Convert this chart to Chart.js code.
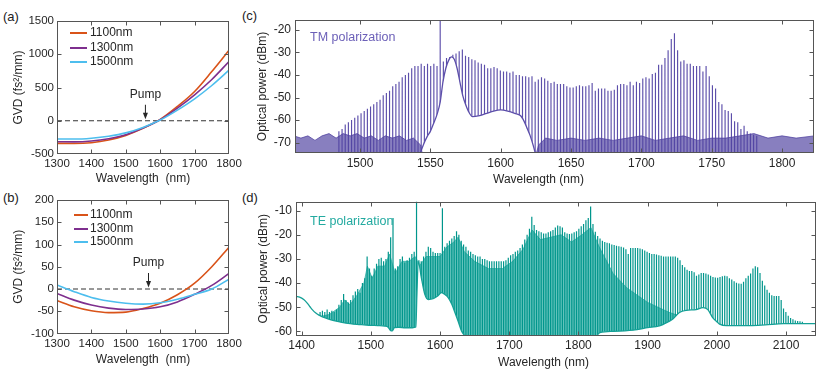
<!DOCTYPE html>
<html><head><meta charset="utf-8">
<script src="https://cdn.jsdelivr.net/npm/chart.js@4/dist/chart.umd.min.js"></script>
<style>
body{margin:0;background:#fff;width:830px;height:382px;overflow:hidden;position:relative;font-family:"Liberation Sans",Arial,sans-serif;}
canvas{position:absolute;}
.lbl{position:absolute;font-size:13px;line-height:15px;color:#222;}
</style></head><body>
<div class="lbl" style="left:3px;top:9px">(a)</div>
<div class="lbl" style="left:3px;top:190px">(b)</div>
<div class="lbl" style="left:242px;top:8px">(c)</div>
<div class="lbl" style="left:242px;top:190px">(d)</div>
<canvas id="ca" width="245" height="190" style="left:0;top:0"></canvas>
<canvas id="cb" width="245" height="192" style="left:0;top:190px"></canvas>
<canvas id="cc" width="585" height="190" style="left:245px;top:0"></canvas>
<canvas id="cd" width="585" height="192" style="left:245px;top:190px"></canvas>
<script>
// ---------------- DATA ----------------
const gvdWavelengths = [1300,1350,1400,1450,1500,1550,1600,1650,1700,1750,1800];
const gvdSeriesNames = ['1100nm','1300nm','1500nm'];
const gvdA_1100 = [-340,-342,-330,-290,-220,-115,20,215,440,740,1060];
const gvdA_1300 = [-315,-318,-305,-270,-210,-110,15,190,390,620,890];
const gvdA_1500 = [-275,-275,-262,-232,-182,-100,10,160,330,530,760];
const gvdB_1100 = [-26,-40,-49,-53,-52,-44,-32,-13,13,50,94];
const gvdB_1300 = [-10,-25,-36,-43,-46,-45,-40,-29,-12,8,35];
const gvdB_1500 = [9,-6,-19,-27,-32,-34,-31,-23,-12,0,22];
const gvdTicksX = [1300,1400,1500,1600,1700,1800];
const gvdA_ticksY = [-500,0,500,1000,1500];
const gvdB_ticksY = [-100,-50,0,50,100,150,200];
const pumpTM = 1557, pumpTE = 1566;

// (c) TM comb: first visible line and line spacing (nm), peak power of each line (dBm)
const tmFirstLine = 1485, tmFsr = 2.25;
const tmPeaks = [
 -65,-64,-62,-61,-60,-59,-58,-57,-56,-55,-54,-53,-52,-51,-49,-48,-47,-45,-44,-43,-41,-40,-39,-37,-36,-36,-35,-36,-35,-36,-35,-36,
 -8,
 -34,-32.5,-32,-31,-30.5,-29.5,-28.7,-31.5,-32,-33,-33.5,-34.5,-35,-35.5,-37,-37,-36.5,-37,-38,-38.5,-38.5,-39,-38.5,-40,-40,-40.5,-40.5,-41,-40.5,-43,-42,-41,-41.5,
 -42.5,-43.5,-43,-44,-44,-44,-45,-45.5,-45.5,-45,-44.5,-45,-45,-44.5,-43.5,-47,-46,-46,-46,-47,-47,-46.5,-44.5,-44,-44,-44.5,-43,-44.5,-43,-43.5,-41.5,-41,-41.5,-39.5,
 -39,-35.5,-35.5,-32.5,-29,-24,-21.5,-29,-34,-33.5,-35,-35,-36,-36,-36,-38.5,-36,-40.5,-44.5,-46,-52,-53,-55.5,-56,-57,-60.5,-61,-64,-62.5,-65,-66,-66.5,-67
];
const tmPedestalWl  = [1541,1545,1548,1550,1552,1555,1557,1559,1561,1563,1565,1567,1569,1571,1573,1575,1577,1580,1585,1590,1595,1600,1605,1610,1614,1617,1619,1621,1623,1626];
const tmPedestalVal = [-78,-71,-67,-65,-62,-57,-52,-43,-37,-33.5,-32,-33,-37,-43,-49,-53,-56,-58.5,-58,-57,-56,-55.5,-56,-57,-58,-61,-64,-67,-71,-78];
const tmNoiseWl  = [1453,1458,1463,1468,1473,1478,1483,1488,1493,1498,1503,1508,1513,1518,1523,1528,1533,1538,1543,1546,1623,1627,1632,1640,1650,1660,1670,1680,1690,1700,1710,1720,1730,1740,1750,1760,1770,1780,1790,1800,1810,1823];
const tmNoiseTop = [-67,-68,-67,-69,-67,-66,-68,-66,-67,-66,-68,-67,-69,-67,-68,-67,-69,-68,-71,-80,-80,-71,-68,-69,-68,-69,-68,-69,-68,-67,-69,-68,-67,-69,-68,-68,-67,-66,-68,-67,-68,-67];
const tmTicksX = [1500,1550,1600,1650,1700,1750,1800];
const tmTicksY = [-70,-60,-50,-40,-30,-20];

// (d) TE comb
const teFirstLine = 1426.6, teFsr = 3.4;
const tePeaks = [
 -52,-51.5,-52,-51,-52,-51.5,-52,-51,-49,-47,
 -44.5,-47,-48,-47,-45,-43.5,-42.5,-44,-40,-38,
 -29,-34,-37,-34,-32,-30,-29.5,-31,-30,-27,
 -21,-13,-34,-33,-30,-29,-31.5,-30.5,-29.5,-28,
 -27,-3,-30.5,-31,-29,-27,-25,-25.5,-27,-27.5,
 -27.5,-27.5,-9,-25,-23.5,-22.5,-21.5,-20.5,-18.5,-20,
 -22.5,-24,-25,-26.5,-27,-28,-28.5,-29,-29,-30,
 -30,-30.5,-31,-31,-31,-31,-31,-31,-31,-30.5,
 -29.5,-28.5,-28,-27,-26.5,-25.5,-24,-22,-20,-17.5,
 -12.5,-16,-18,-18.5,-19,-19.5,-19.5,-19,-18.5,-18,
 -17,-16.2,-16.5,-17,-19,-19.5,-19.7,-19.5,-19,-18.5,
 -17.5,-16.5,-15.5,-14,-13,-8.3,-15.5,-18.7,-20.5,-21.5,
 -22.5,-23,-23.3,-23.5,-24,-24.2,-24.5,-24.7,-25,-25.3,
 -26,-28,-25.5,-25.5,-25.5,-25.5,-25.7,-26,-26.5,-27,
 -27.5,-28,-28,-28.2,-28.5,-28.7,-29,-29,-29,-29,
 -29,-29,-29.5,-30.5,-32.5,-33.5,-34.5,-35,-35,-35.5,
 -37,-36.5,-35.8,-35.8,-36,-36.5,-37,-37.5,-37.7,-37.8,
 -37.5,-37.2,-37,-37.2,-38,-38.5,-39.2,-39.9,-40.2,-40.3,
 -39.5,-38,-37,-36,-34,-33,-33.5,-35.8,-39,-41,
 -42.8,-44,-45,-45.4,-45.4,-45.4,-47,-50.5,-52,-53.5,
 -54.5,-55,-55.5,-55.7,-55.8,-56
];
const teFloorWl  = [1392,1397,1403,1408,1412,1416,1420,1425,1430,1440,1450,1460,1470,1480,1490,1500,1510,1520,1525,1528,1531,1534,1540,1550,1560,1565,1566.5,1568.5,1573,1578,1583,1590,1596,1602,1607,1612,1617,1621.5,1626,1631,1636,1642,1820,1831,1850,1879,1900,1917,1930,1936,1946,1956,1970,1980,1987,1994,2000,2004,2014,2048,2070,2096,2143];
const teFloorVal = [-45.6,-45.8,-46.8,-48.3,-49.8,-51.2,-52.3,-53.3,-54,-55,-55.8,-56.4,-56.8,-57.1,-57.3,-57.5,-57.6,-57.8,-58.3,-59.5,-59.8,-58.5,-58.3,-58.5,-58.5,-58.2,-45,-31,-37.8,-44.7,-46.8,-46.5,-45.5,-44,-44.7,-46.1,-48.8,-52.2,-55.7,-59.8,-61.9,-64,-64,-60.5,-60,-59.5,-58.5,-57.7,-56,-55,-52.2,-51.3,-51,-50.2,-51,-54.3,-56,-57,-57.6,-57.6,-57.3,-56.8,-56.8];
const teSkirtWl  = [1425,1440,1455,1462,1470,1480,1490,1495,1502,1510,1520,1527,1535,1545,1555,1564,1566,1570,1580,1590,1600,1610,1620,1626,1635,1650,1670,1690,1705,1720,1733,1745,1760,1775,1790,1805,1818,1830,1850,1870,1900,1930,1950,1970,1990,2010,2040,2060,2080,2095];
const teSkirtVal = [-54,-53,-50,-47,-49,-45,-40,-33,-38,-33,-33,-28,-36,-31,-31,-29,-30,-33,-29,-29,-29,-25,-23,-21,-27,-31,-34,-34,-31,-26,-18,-22,-21,-20,-23,-20,-17,-25,-36,-42,-48,-52,-54,-55,-56,-58,-58,-58,-58,-58];
const teTicksX = [1400,1500,1600,1700,1800,1900,2000,2100];
const teTicksY = [-60,-50,-40,-30,-20,-10];

// ---------------- HELPERS ----------------
const FONT = '"Liberation Sans", Arial, sans-serif';
const TXT = '#262626';
const C1100 = 'rgb(217,83,25)', C1300 = 'rgb(126,47,142)', C1500 = 'rgb(77,190,238)';
const TM = 'rgb(92,78,170)', TE = 'rgb(0,150,140)';
const zip = (xs, ys) => xs.map((x, i) => ({x, y: ys[i]}));
function combPoints(first, fsr, peaks, base) {
  const pts = [];
  peaks.forEach((p, i) => { const x = first + i * fsr; pts.push({x, y: base}, {x, y: p}, {x, y: base}); });
  return pts;
}
function axis(o) {
  return {
    type: 'linear', min: o.min, max: o.max,
    afterBuildTicks: s => { s.ticks = o.ticks.map(v => ({value: v})); },
    ticks: {callback: v => String(v), font: {family: FONT, size: o.fs}, color: TXT, padding: o.pad, autoSkip: false, maxRotation: 0, minRotation: 0},
    grid: {display: false, drawTicks: false},
    border: {display: false},
    title: o.title ? {display: true, text: o.title, font: {family: FONT, size: 12}, color: TXT, padding: o.tpad} : {display: false},
    afterFit: s => { if (s.isHorizontal()) s.height = o.size; else s.width = o.size; }
  };
}
const deco = {
  id: 'deco',
  afterDatasetsDraw(chart) {
    const o = chart.options.plugins.deco || {};
    const {ctx, chartArea: a, scales: {x, y}} = chart;
    ctx.save();
    ctx.strokeStyle = '#555'; ctx.lineWidth = 1;
    const L = Math.round(a.left) + 0.5, R = Math.round(a.right) - 0.5, T = Math.round(a.top) + 0.5, B = Math.round(a.bottom) - 0.5;
    ctx.strokeRect(L, T, R - L, B - T);
    ctx.beginPath();
    const tl = 4;
    x.ticks.forEach(t => { const px = Math.round(x.getPixelForValue(t.value)) + 0.5; if (px > L + 1 && px < R - 1) { ctx.moveTo(px, B); ctx.lineTo(px, B - tl); ctx.moveTo(px, T); ctx.lineTo(px, T + tl); } });
    y.ticks.forEach(t => { const py = Math.round(y.getPixelForValue(t.value)) + 0.5; if (py > T + 1 && py < B - 1) { ctx.moveTo(L, py); ctx.lineTo(L + tl, py); ctx.moveTo(R, py); ctx.lineTo(R - tl, py); } });
    ctx.stroke();
    if (o.legend) {
      const g = o.legend;
      chart.data.datasets.forEach(d => {
        const k = gvdSeriesNames.indexOf(d.label); if (k < 0) return;
        const yy = g.ys[k];
        ctx.strokeStyle = d.borderColor; ctx.lineWidth = 2;
        ctx.beginPath(); ctx.moveTo(g.x0, yy); ctx.lineTo(g.x1, yy); ctx.stroke();
        ctx.fillStyle = TXT; ctx.font = '12px ' + FONT; ctx.textAlign = 'left'; ctx.textBaseline = 'middle';
        ctx.fillText(d.label, g.tx, yy);
      });
    }
    if (o.pump) {
      const px = x.getPixelForValue(o.pump.wl), p0 = y.getPixelForValue(0);
      ctx.fillStyle = TXT; ctx.font = '12px ' + FONT; ctx.textAlign = 'center'; ctx.textBaseline = 'middle';
      ctx.fillText('Pump', px, p0 - 26);
      ctx.strokeStyle = '#222'; ctx.lineWidth = 1;
      ctx.beginPath(); ctx.moveTo(px, p0 - 16); ctx.lineTo(px, p0 - 6); ctx.stroke();
      ctx.beginPath(); ctx.moveTo(px, p0 - 1.5); ctx.lineTo(px - 2.5, p0 - 8); ctx.lineTo(px + 2.5, p0 - 8); ctx.closePath(); ctx.fill();
    }
    (o.texts || []).forEach(t => {
      ctx.fillStyle = t.color || TXT; ctx.font = (t.size || 12) + 'px ' + FONT;
      ctx.textAlign = t.align || 'left'; ctx.textBaseline = 'middle';
      ctx.fillText(t.text, t.x, t.y);
    });
    ctx.restore();
  }
};
function baseOptions(pad, scales, decoOpts) {
  return {
    responsive: false, animation: false, events: [],
    layout: {autoPadding: false, padding: pad},
    scales,
    plugins: {legend: {display: false}, tooltip: {enabled: false}, deco: decoOpts}
  };
}
const lineDs = (label, data, color, order) => ({label, data, borderColor: color, borderWidth: 1.6, pointRadius: 0, cubicInterpolationMode: 'monotone', fill: false, order});

// ---------------- (a) ----------------
new Chart(document.getElementById('ca'), {
  type: 'line',
  data: {datasets: [
    lineDs('1100nm', zip(gvdWavelengths, gvdA_1100), C1100, 3),
    lineDs('1300nm', zip(gvdWavelengths, gvdA_1300), C1300, 2),
    lineDs('1500nm', zip(gvdWavelengths, gvdA_1500), C1500, 1),
    {label: 'zero', data: [{x: 1300, y: 0}, {x: 1800, y: 0}], borderColor: '#333', borderDash: [5, 3], borderWidth: 1, pointRadius: 0, order: 4}
  ]},
  options: baseOptions({left: 0, top: 21, right: 16, bottom: 4}, {
    x: axis({min: 1300, max: 1800, ticks: gvdTicksX, fs: 11.5, pad: 3, title: 'Wavelength  (nm)', tpad: {top: 0, bottom: 0}, size: 32}),
    y: axis({min: -500, max: 1500, ticks: gvdA_ticksY, fs: 11.5, pad: 3, title: 'GVD (fs\u00B2/mm)', tpad: {top: 11, bottom: 0}, size: 57})
  }, {legend: {x0: 70, x1: 87, tx: 90, ys: [33, 48, 62]}, pump: {wl: pumpTM}}),
  plugins: [deco]
});

// ---------------- (b) ----------------
new Chart(document.getElementById('cb'), {
  type: 'line',
  data: {datasets: [
    lineDs('1100nm', zip(gvdWavelengths, gvdB_1100), C1100, 3),
    lineDs('1300nm', zip(gvdWavelengths, gvdB_1300), C1300, 2),
    lineDs('1500nm', zip(gvdWavelengths, gvdB_1500), C1500, 1),
    {label: 'zero', data: [{x: 1300, y: 0}, {x: 1800, y: 0}], borderColor: '#333', borderDash: [5, 3], borderWidth: 1, pointRadius: 0, order: 4}
  ]},
  options: baseOptions({left: 0, top: 10, right: 16, bottom: 15}, {
    x: axis({min: 1300, max: 1800, ticks: gvdTicksX, fs: 11.5, pad: 3, title: 'Wavelength  (nm)', tpad: {top: 0, bottom: 0}, size: 33.5}),
    y: axis({min: -100, max: 200, ticks: gvdB_ticksY, fs: 11.5, pad: 3, title: 'GVD (fs\u00B2/mm)', tpad: {top: 11, bottom: 0}, size: 57})
  }, {legend: {x0: 74, x1: 88, tx: 90, ys: [25, 39, 52]}, pump: {wl: pumpTE}}),
  plugins: [deco]
});

// ---------------- (c) ----------------
new Chart(document.getElementById('cc'), {
  type: 'line',
  data: {datasets: [
    {label: 'noise', data: zip(tmNoiseWl, tmNoiseTop), fill: 'start', backgroundColor: 'rgba(80,66,160,0.68)', borderColor: 'rgba(80,66,160,0.75)', borderWidth: 1, pointRadius: 0, order: 0},
    {label: 'pedestal', data: zip(tmPedestalWl, tmPedestalVal), fill: 'start', backgroundColor: '#fff', borderColor: 'rgb(92,78,170)', borderWidth: 1.3, pointRadius: 0, cubicInterpolationMode: 'monotone', order: 1},
    {label: 'comb', data: combPoints(tmFirstLine, tmFsr, tmPeaks, -80), borderColor: TM, borderWidth: 1.15, pointRadius: 0, fill: false, order: 2}
  ]},
  options: baseOptions({left: 0, top: 20, right: 16, bottom: 0}, {
    x: axis({min: 1453.8, max: 1822.7, ticks: tmTicksX, fs: 12, pad: 3, size: 37}),
    y: axis({min: -74.6, max: -15.6, ticks: tmTicksY, fs: 12, pad: 4, title: 'Optical power (dBm)', tpad: {top: 10, bottom: 0}, size: 50})
  }, {texts: [
    {text: 'TM polarization', x: 65, y: 38, color: 'rgb(108,96,184)', size: 12.5},
    {text: 'Wavelength (nm)', x: 293.5, y: 180, align: 'center', size: 12}
  ]}),
  plugins: [deco]
});

// ---------------- (d) ----------------
new Chart(document.getElementById('cd'), {
  type: 'line',
  data: {datasets: [
    {label: 'floor', data: zip(teFloorWl, teFloorVal), fill: 'start', backgroundColor: '#fff', borderColor: 'rgb(20,160,150)', borderWidth: 1.3, pointRadius: 0, cubicInterpolationMode: 'monotone', order: 0},
    {label: 'comb', data: combPoints(teFirstLine, teFsr, tePeaks, -66), borderColor: TE, borderWidth: 1.2, pointRadius: 0, fill: false, order: 1},
    {label: 'skirt', data: zip(teSkirtWl, teSkirtVal), fill: 'start', backgroundColor: 'rgba(40,172,162,0.72)', borderColor: 'rgba(40,172,162,0.72)', borderWidth: 1, pointRadius: 0, order: 2}
  ]},
  options: baseOptions({left: 0, top: 11.7, right: 14.3, bottom: 0}, {
    x: axis({min: 1391.8, max: 2142.9, ticks: teTicksX, fs: 12, pad: 3, size: 46.3}),
    y: axis({min: -61.8, max: -6.3, ticks: teTicksY, fs: 12, pad: 4, title: 'Optical power (dBm)', tpad: {top: 11, bottom: 0}, size: 51})
  }, {texts: [
    {text: 'TE polarization', x: 65, y: 32, color: 'rgb(35,170,160)', size: 12.5},
    {text: 'Wavelength (nm)', x: 298.5, y: 173, align: 'center', size: 12}
  ]}),
  plugins: [deco]
});
</script>
</body></html>
